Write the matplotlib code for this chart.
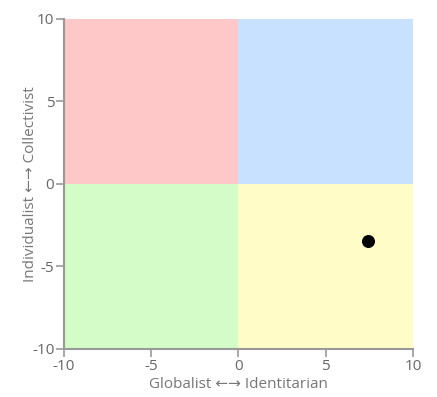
import matplotlib
matplotlib.use('Agg')
import matplotlib.pyplot as plt

# quadrant backgrounds: lower-left corners and colours
quad_x = [-10, 0, -10, 0]
quad_y = [0, 0, -10, -10]
quad_colors = ['#ffc8c8', '#c8e1ff', '#d4fcc8', '#fffcc8']

# the plotted position
point_x = [7.4]
point_y = [-3.45]

ticks = [-10, -5, 0, 5, 10]

plt.rcParams['font.family'] = ['Open Sans', 'DejaVu Sans']
plt.rcParams['axes.unicode_minus'] = False

fig = plt.figure(figsize=(4.37, 3.97), dpi=100)
ax = fig.add_axes([0.1465, 0.121, 0.7985, 0.832])

for qx, qy, c in zip(quad_x, quad_y, quad_colors):
    ax.add_patch(plt.Rectangle((qx, qy), 10, 10, color=c, lw=0, zorder=0))

ax.scatter(point_x, point_y, s=70, color='black', zorder=3)

ax.set_xlim(-10, 10)
ax.set_ylim(-10, 10)
ax.set_xticks(ticks)
ax.set_yticks(ticks)

for s in ['top', 'right']:
    ax.spines[s].set_visible(False)
for s in ['left', 'bottom']:
    ax.spines[s].set_color('#999999')
    ax.spines[s].set_linewidth(1.5)
ax.tick_params(colors='#999999', labelcolor='#666666', labelsize=11,
               length=6, width=1.2, pad=1)

ax.set_xlabel('Globalist ←→ Identitarian', color='#777777', fontsize=11)
ax.set_ylabel('Individualist ←→ Collectivist', color='#777777', fontsize=11)
ax.xaxis.set_label_coords(0.5, -0.085)
ax.yaxis.set_label_coords(-0.075, 0.5)

fig.savefig('out.png', dpi=100)
